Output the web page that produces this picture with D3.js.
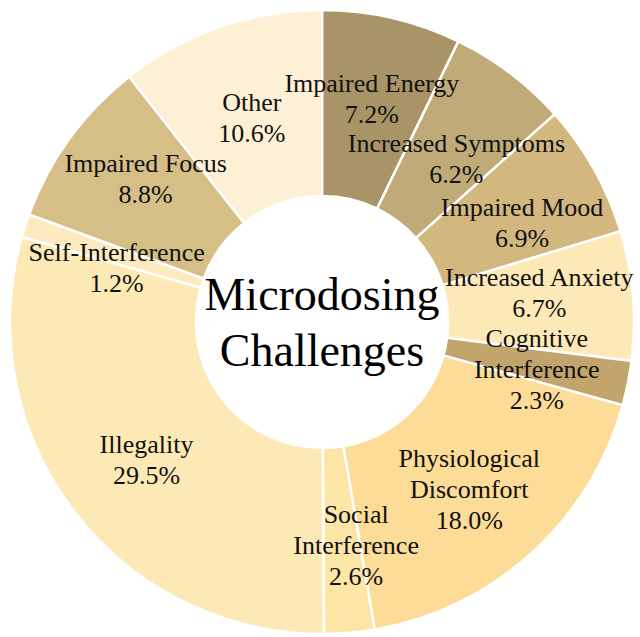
<!DOCTYPE html>
<html><head><meta charset="utf-8">
<script src="https://cdn.jsdelivr.net/npm/d3@7"></script>
<style>html,body{margin:0;padding:0;background:#fff;}</style>
</head><body>
<svg id="chart" width="640" height="637"></svg>
<script>
const categories = [
  ["Impaired Energy"], ["Increased Symptoms"], ["Impaired Mood"], ["Increased Anxiety"],
  ["Cognitive", "Interference"], ["Physiological", "Discomfort"], ["Social", "Interference"],
  ["Illegality"], ["Self-Interference"], ["Impaired Focus"], ["Other"]
];
const values = [7.2, 6.2, 6.9, 6.7, 2.3, 18.0, 2.6, 29.5, 1.2, 8.8, 10.6];
const colors = ["#a99467", "#bfaa78", "#d2b77f", "#fde9b8", "#c1a56c", "#fcdc97",
                "#fde5a6", "#fde9b5", "#fdeac0", "#d6bf87", "#fdf0d5"];
const titleLines = ["Microdosing", "Challenges"];

// layout-only nudges for label placement (pixels), not data
const labelNudge = [[1,-11],[3,10],[10,7],[0,-11],[1,4],[1,5],[15,6],[-2,5],[2,13],[0,-15],[1,1]];

const svg = d3.select("#chart");
const cx = 322, cy = 322, rOuter = 312, rInner = 126, rLabel = 218;
const g = svg.append("g").attr("transform", `translate(${cx},${cy})`);

const data = values.map((v, i) => ({ label: categories[i], value: v, color: colors[i], nudge: labelNudge[i] }));
const pie = d3.pie().value(d => d.value).sort(null);
const arc = d3.arc().innerRadius(rInner).outerRadius(rOuter);
const labelArc = d3.arc().innerRadius(rLabel).outerRadius(rLabel);
const arcs = pie(data);

g.selectAll("path.slice").data(arcs).enter().append("path")
  .attr("class", "slice")
  .attr("d", arc)
  .attr("fill", d => d.data.color)
  .attr("stroke", "#ffffff")
  .attr("stroke-width", 2.5);

const fontFam = "Liberation Serif, Times New Roman, serif";
const lh = 31;
const labels = g.selectAll("text.lbl").data(arcs).enter().append("text")
  .attr("class", "lbl")
  .attr("text-anchor", "middle")
  .style("font-family", fontFam)
  .style("font-size", "26px")
  .attr("fill", "#111")
  .attr("transform", d => {
    const c = labelArc.centroid(d);
    return `translate(${c[0] + d.data.nudge[0]},${c[1] + d.data.nudge[1]})`;
  });

labels.each(function(d) {
  const lines = d.data.label.concat([d.data.value.toFixed(1) + "%"]);
  const n = lines.length;
  const t = d3.select(this);
  lines.forEach((s, i) => {
    t.append("tspan").attr("x", 0)
      .attr("y", (i - (n - 1) / 2) * lh)
      .attr("dy", "0.35em")
      .text(s);
  });
});

const title = g.append("text")
  .attr("text-anchor", "middle")
  .style("font-family", fontFam)
  .style("font-size", "46px")
  .attr("fill", "#000");
titleLines.forEach((s, i) => {
  title.append("tspan").attr("x", 0)
    .attr("y", (i - (titleLines.length - 1) / 2) * 56)
    .attr("dy", "0.35em")
    .text(s);
});
</script>
</body></html>
